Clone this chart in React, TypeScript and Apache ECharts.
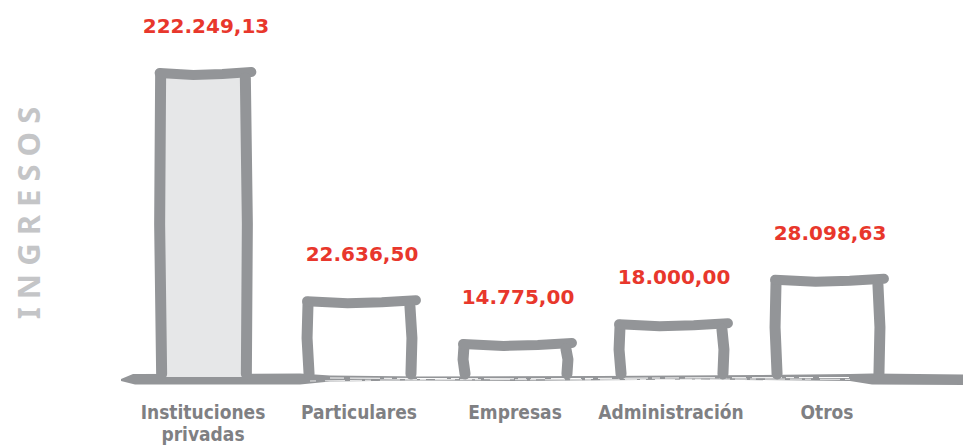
import React, { useEffect, useRef } from "react";
import * as echarts from "echarts";

const categories = ["Instituciones\nprivadas", "Particulares", "Empresas", "Administración", "Otros"];
const ingresos = [222249.13, 22636.5, 14775.0, 18000.0, 28098.63];
const axisTitle = "I N G R E S O S";

const AXIS_MIN = 10400;
const AXIS_MAX = 277000;

const STROKE = "#939598";
const FILL_FIRST = "#e6e7e8";
const LABEL_RED = "#e8372c";

function fmtEs(v: number): string {
  const fixed = v.toFixed(2);
  const [intPart, dec] = fixed.split(".");
  const grouped = intPart.replace(/\B(?=(\d{3})+(?!\d))/g, ".");
  return grouped + "," + dec;
}

export default function App() {
  const ref = useRef<HTMLDivElement>(null);
  useEffect(() => {
    if (!ref.current) return;
    const chart = echarts.init(ref.current, undefined, { renderer: "svg" });
    const option: any = {
      animation: false,
      backgroundColor: "#ffffff",
      grid: { left: 125, right: 58, top: 49, bottom: 71 },
      xAxis: {
        type: "category",
        data: categories,
        axisLine: { show: false },
        axisTick: { show: false },
        axisLabel: {
          interval: 0,
          margin: 24,
          color: "#7f8083",
          fontSize: 19,
          fontWeight: "bold",
          fontFamily: "'Liberation Sans Narrow', 'DejaVu Sans Condensed', sans-serif",
          lineHeight: 22,
        },
      },
      yAxis: {
        type: "log",
        logBase: 10,
        min: AXIS_MIN,
        max: AXIS_MAX,
        axisLine: { show: false },
        axisTick: { show: false },
        axisLabel: { show: false },
        splitLine: { show: false },
        name: axisTitle,
        nameLocation: "middle",
        nameRotate: 90,
        nameGap: 82,
        nameTextStyle: {
          color: "#c4c5c7",
          fontSize: 31,
          fontWeight: "bold",
          fontFamily: "'Noto Sans', 'Open Sans', sans-serif",
        },
      },
      graphic: [
        {
          type: "polygon",
          shape: {
            points: [
              [121, 379], [133, 374], [300, 373.5], [330, 375.5], [420, 376.5], [600, 376],
              [760, 375], [850, 374], [872, 373.5], [963, 374.5], [963, 385], [872, 384.5],
              [850, 381], [700, 379.5], [520, 381], [420, 380.5], [330, 381.5], [300, 384.5],
              [135, 384.5], [121, 381],
            ],
          },
          style: { fill: STROKE },
          z: 1,
        },
        {
          type: "polyline",
          shape: { points: [[330, 378], [420, 378.5], [520, 378.8], [700, 377.8], [850, 377.5]] },
          style: { stroke: "#ffffff", lineWidth: 1, lineDash: [14, 6, 30, 4, 8, 5], fill: null },
          z: 2,
        },
        {
          type: "polyline",
          shape: { points: [[310, 381], [420, 379.6], [600, 379.8], [760, 379], [850, 379.4]] },
          style: { stroke: "#ffffff", lineWidth: 0.8, lineDash: [6, 9, 20, 5, 12, 3], fill: null },
          z: 2,
        },
      ],
      series: [
        {
          type: "custom",
          data: ingresos.map((v, i) => [i, v]),
          encode: { x: 0, y: 1 },
          clip: false,
          z: 5,
          renderItem: (params: any, api: any) => {
            const idx = params.dataIndex;
            const v = api.value(1);
            const top = api.coord([idx, v]);
            const cs = params.coordSys;
            const bottom = cs.y + cs.height;
            const band = api.size([1, 0])[0];
            const w = idx === 0 ? band * 0.62 : band * 0.73;
            const cx = top[0];
            const x0 = cx - w / 2 + 6;
            const x1 = cx + w / 2 - 6;
            const yT = top[1] + 3;
            const yB = bottom - 3;
            const midY = (yT + yB) / 2;
            const children: any[] = [];
            if (idx === 0) {
              children.push({
                type: "rect",
                shape: { x: x0, y: yT, width: x1 - x0, height: bottom - yT },
                style: { fill: FILL_FIRST },
              });
            }
            const lineStyle = { stroke: STROKE, lineWidth: 11, lineCap: "round", lineJoin: "round", fill: null };
            children.push({
              type: "polyline",
              shape: { points: [[x0 + 1, yB], [x0 - 1, midY], [x0, yT]] },
              style: lineStyle,
            });
            children.push({
              type: "polyline",
              shape: { points: [[x0 - 1, yT - 1], [cx - w * 0.1, yT + 1], [cx + w * 0.2, yT], [x1 + 6, yT - 2]] },
              style: { ...lineStyle, lineWidth: 10 },
            });
            children.push({
              type: "polyline",
              shape: { points: [[x1, yT + 4], [x1 + 2, midY], [x1 + 1, yB]] },
              style: lineStyle,
            });
            children.push({
              type: "text",
              style: {
                text: fmtEs(v),
                x: cx + 3,
                y: top[1] - 45,
                align: "center",
                verticalAlign: "middle",
                fill: LABEL_RED,
                fontSize: 20,
                fontWeight: "bold",
                fontFamily: "'DejaVu Sans', sans-serif",
              },
            });
            return { type: "group", children };
          },
        },
      ],
    };
    chart.setOption(option);
    return () => chart.dispose();
  }, []);
  return (
    <div
      ref={ref}
      style={{ position: "fixed", left: 0, top: 0, width: 963, height: 448, background: "#ffffff" }}
    />
  );
}
